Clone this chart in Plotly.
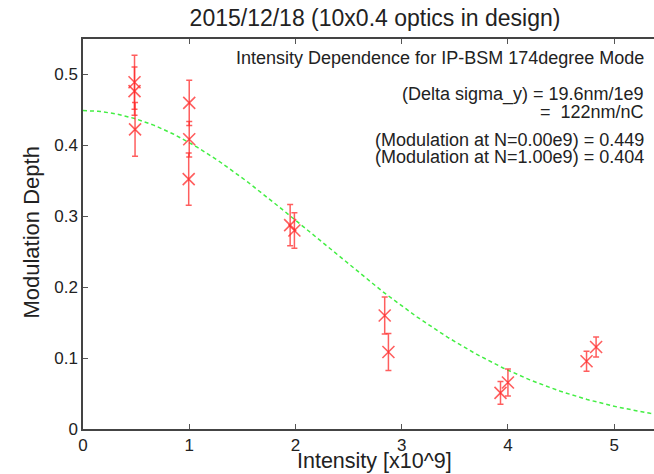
import numpy as np
import plotly.graph_objects as go

# Measured modulation depth vs. bunch intensity
intensity = [0.485, 0.485, 0.49, 1.0, 1.0, 0.995, 1.95, 1.99, 2.84, 2.875, 3.93, 4.0, 4.74, 4.83]
modulation = [0.489, 0.4765, 0.4225, 0.460, 0.4086, 0.3524, 0.2875, 0.280,
              0.160, 0.1086, 0.051, 0.0656, 0.0955, 0.1156]
mod_err = [0.038, 0.034, 0.038, 0.032, 0.025, 0.037, 0.029, 0.025,
           0.026, 0.026, 0.016, 0.019, 0.014, 0.014]

# Fit results
m_at_0 = 0.449
m_at_1 = 0.404

x_tick_vals = [0, 1, 2, 3, 4, 5]
y_tick_vals = [0, 0.1, 0.2, 0.3, 0.4, 0.5]
y_tick_text = ["0", "0.1", "0.2", "0.3", "0.4", "0.5"]

x_max = 5.375
y_max = 0.55

# Gaussian fit curve through the two fitted modulation values
decay = np.log(m_at_0 / m_at_1)
x_fit = np.linspace(0, x_max, 300)
y_fit = m_at_0 * np.exp(-decay * x_fit ** 2)

FONT = "Liberation Sans, Arial, sans-serif"
INK = "#222222"
RED = "rgba(255,40,40,0.75)"

# Page geometry (pixels)
FIG_W, FIG_H = 654, 474
L, R, T, B = 82.7, 0, 38.5, 45
W, H = FIG_W - L - R, FIG_H - T - B


def px_to_paper(px, py):
    return (px - L) / W, 1 - (py - T) / H


fig = go.Figure()
fig.add_trace(go.Scatter(
    x=x_fit, y=y_fit, mode="lines",
    line=dict(color="#44ee44", width=1.5, dash="4px,3px"),
    hoverinfo="skip", showlegend=False,
))
fig.add_trace(go.Scatter(
    x=intensity, y=modulation, mode="markers",
    marker=dict(symbol="x-thin", size=12, line=dict(color=RED, width=1.6)),
    error_y=dict(type="data", array=mod_err, visible=True,
                 color=RED, thickness=1.5, width=3),
    showlegend=False,
))

notes = [
    ("Intensity Dependence for IP-BSM 174degree Mode", 58),
    ("(Delta sigma_y) = 19.6nm/1e9", 94),
    ("=  122nm/nC", 111.5),
    ("(Modulation at N=0.00e9) = %.3f" % m_at_0, 139.5),
    ("(Modulation at N=1.00e9) = %.3f" % m_at_1, 157),
]
for text, ypix in notes:
    ax, ay = px_to_paper(646, ypix)
    fig.add_annotation(
        x=ax, y=ay, xref="paper", yref="paper",
        text=text, showarrow=False, xanchor="right", yanchor="middle",
        font=dict(family=FONT, size=18, color=INK),
    )

# Axis titles
tx, ty = px_to_paper(374, 461)
fig.add_annotation(x=tx, y=ty, xref="paper", yref="paper", text="Intensity [x10^9]",
                   showarrow=False, xanchor="center", yanchor="middle",
                   font=dict(family=FONT, size=21.5, color=INK))
tx, ty = px_to_paper(31, 232)
fig.add_annotation(x=tx, y=ty, xref="paper", yref="paper", text="Modulation Depth",
                   showarrow=False, xanchor="center", yanchor="middle", textangle=-90,
                   font=dict(family=FONT, size=22, color=INK))

fig.update_layout(
    width=FIG_W, height=FIG_H,
    margin=dict(l=L, r=R, t=T, b=B),
    paper_bgcolor="white", plot_bgcolor="white",
    font=dict(family=FONT, color=INK, size=17),
    title=dict(text="2015/12/18 (10x0.4 optics in design)", x=375 / FIG_W, y=1 - 18 / FIG_H,
               xanchor="center", yanchor="middle", font=dict(size=23, family=FONT, color=INK)),
)
fig.update_xaxes(
    range=[0, x_max], tickvals=x_tick_vals, ticks="inside", ticklen=5, tickcolor="#555",
    showline=True, linecolor="#444", linewidth=1.5, mirror="ticks",
    showgrid=False, zeroline=False, tickfont=dict(size=17, family=FONT, color=INK),
)
fig.update_yaxes(
    range=[0, y_max], tickvals=y_tick_vals, ticktext=y_tick_text, ticks="inside", ticklen=5,
    tickcolor="#555", showline=True, linecolor="#444", linewidth=1.5, mirror=False,
    showgrid=False, zeroline=False, tickfont=dict(size=17, family=FONT, color=INK),
)

fig.write_html("out.html")
